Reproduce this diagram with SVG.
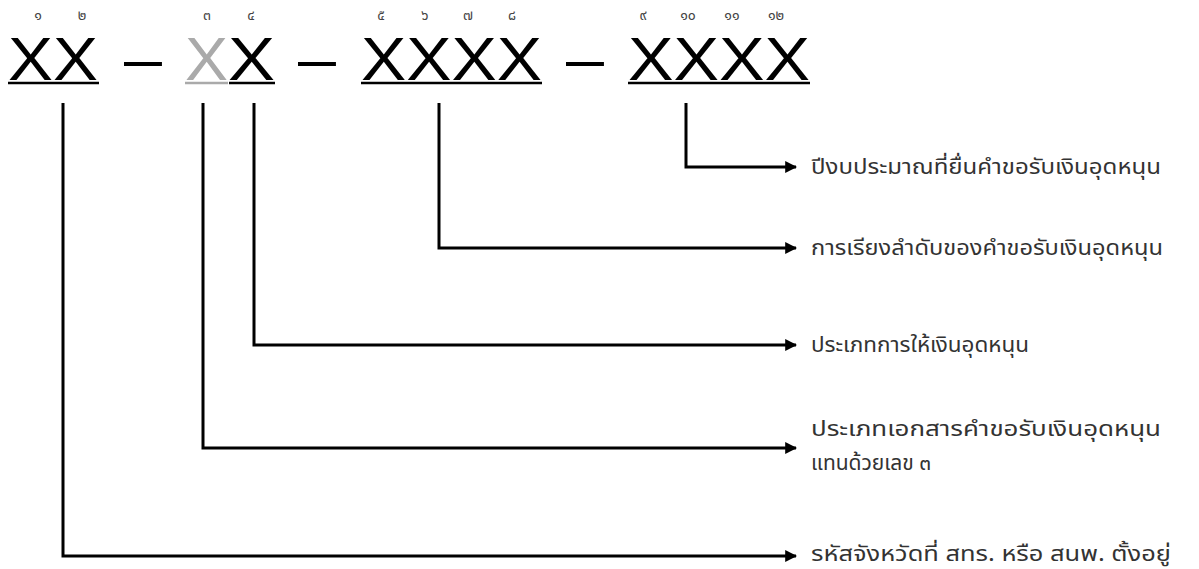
<svg xmlns="http://www.w3.org/2000/svg" width="1199" height="569" viewBox="0 0 1199 569">
<style>
.big{font-family:"Liberation Sans",Arial,sans-serif;font-size:62px;fill:#000}
.dig{font-family:"Noto Sans Thai","Noto Sans","DejaVu Sans",sans-serif;font-size:14px;fill:#444;text-anchor:middle}
.lbl{font-family:"Noto Sans Thai","Noto Sans","DejaVu Sans",sans-serif;font-size:21px;fill:#333}
.ul{stroke:#000;stroke-width:2.5}
.conn{fill:none;stroke:#000;stroke-width:3}
</style>
<defs>
<marker id="ah" viewBox="0 0 10 10" refX="9" refY="5" markerWidth="4" markerHeight="4" orient="auto" markerUnits="strokeWidth">
<path d="M0,0 L10,5 L0,10 z" fill="#000"/>
</marker>
</defs>
<rect width="1199" height="569" fill="#fff"/>
<g id="code">
<text class="big" x="8" y="80" textLength="90" lengthAdjust="spacingAndGlyphs">XX</text>
<text class="big" x="124" y="80" textLength="38" lengthAdjust="spacingAndGlyphs">–</text>
<text class="big" x="185" y="80" textLength="43" lengthAdjust="spacingAndGlyphs" style="fill:#aaa">X</text>
<text class="big" x="228" y="80" textLength="47" lengthAdjust="spacingAndGlyphs">X</text>
<text class="big" x="298" y="80" textLength="38" lengthAdjust="spacingAndGlyphs">–</text>
<text class="big" x="361" y="80" textLength="181" lengthAdjust="spacingAndGlyphs">XXXX</text>
<text class="big" x="566" y="80" textLength="38" lengthAdjust="spacingAndGlyphs">–</text>
<text class="big" x="628" y="80" textLength="182" lengthAdjust="spacingAndGlyphs">XXXX</text>
<line class="ul" x1="8" y1="83" x2="99" y2="83"/>
<line x1="185" y1="83" x2="228" y2="83" stroke="#aaa" stroke-width="2.5"/>
<line class="ul" x1="229" y1="83" x2="275" y2="83"/>
<line class="ul" x1="361" y1="83" x2="542" y2="83"/>
<line class="ul" x1="628" y1="83" x2="810" y2="83"/>
</g>
<g id="digits">
<text class="dig" x="38" y="20">๑</text>
<text class="dig" x="82" y="20">๒</text>
<text class="dig" x="207" y="20">๓</text>
<text class="dig" x="251" y="20">๔</text>
<text class="dig" x="381" y="20">๕</text>
<text class="dig" x="425" y="20">๖</text>
<text class="dig" x="468" y="20">๗</text>
<text class="dig" x="512" y="20">๘</text>
<text class="dig" x="643" y="20">๙</text>
<text class="dig" x="688" y="20">๑๐</text>
<text class="dig" x="732" y="20">๑๑</text>
<text class="dig" x="776" y="20">๑๒</text>
</g>
<g id="connectors">
<path class="conn" d="M686,103 V167 H796" marker-end="url(#ah)"/>
<path class="conn" d="M439,103 V248 H796" marker-end="url(#ah)"/>
<path class="conn" d="M254,103 V345 H796" marker-end="url(#ah)"/>
<path class="conn" d="M203,103 V448 H796" marker-end="url(#ah)"/>
<path class="conn" d="M63,103 V556 H796" marker-end="url(#ah)"/>
</g>
<g id="label-year"><text class="lbl" x="811" y="174" textLength="350" lengthAdjust="spacingAndGlyphs">ปีงบประมาณที่ยื่นคำขอรับเงินอุดหนุน</text></g>
<g id="label-seq"><text class="lbl" x="811" y="255" textLength="352" lengthAdjust="spacingAndGlyphs">การเรียงลำดับของคำขอรับเงินอุดหนุน</text></g>
<g id="label-type"><text class="lbl" x="811" y="352" textLength="218" lengthAdjust="spacingAndGlyphs">ประเภทการให้เงินอุดหนุน</text></g>
<g id="label-doc"><text class="lbl" x="811" y="436" textLength="350" lengthAdjust="spacingAndGlyphs">ประเภทเอกสารคำขอรับเงินอุดหนุน</text><text class="lbl" x="811" y="470">แทนด้วยเลข ๓</text></g>
<g id="label-prov"><text class="lbl" x="811" y="561" textLength="360" lengthAdjust="spacingAndGlyphs">รหัสจังหวัดที่ สทร. หรือ สนพ. ตั้งอยู่</text></g>
</svg>
